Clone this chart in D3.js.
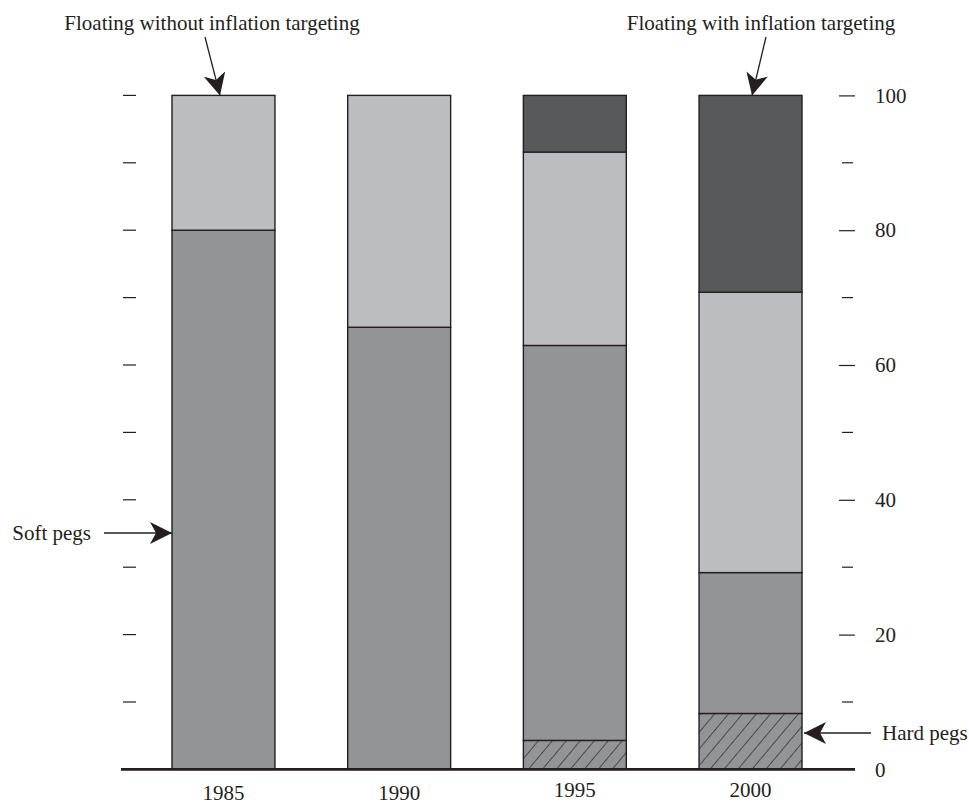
<!DOCTYPE html>
<html>
<head>
<meta charset="utf-8">
<script src="https://cdn.jsdelivr.net/npm/d3@7"></script>
<style>
  body { margin: 0; background: #fff; }
  svg { display: block; }
  text { font-family: "Liberation Serif", "Times New Roman", serif; fill: #231f20; }
</style>
</head>
<body>
<svg id="chart" width="969" height="805"></svg>
<script>
// ---- data ----
const years = ["1985", "1990", "1995", "2000"];
const hardPegs = [0, 0, 4.3, 8.3];
const softPegs = [80, 65.6, 58.6, 20.9];
const floatNoIT = [20, 34.4, 28.7, 41.6];
const floatIT = [0, 0, 8.4, 29.2];
const seriesKeys = ["hard", "soft", "floatNoIT", "floatIT"];
const majorTicks = [0, 20, 40, 60, 80, 100];
const minorTicks = [10, 30, 50, 70, 90];
const leftTicks = [10, 20, 30, 40, 50, 60, 70, 80, 90, 100];
const yearLabelOffset = [3, 3, 0, 0];

const colors = { hard: "#939498", soft: "#939498", floatNoIT: "#bcbdc1", floatIT: "#58595b" };
const ink = "#231f20";

const svg = d3.select("#chart");

// hatch pattern
const defs = svg.append("defs");
const pat = defs.append("pattern")
  .attr("id", "hatch").attr("patternUnits", "userSpaceOnUse")
  .attr("width", 10.7).attr("height", 10.7)
  .attr("patternTransform", "rotate(40)");
pat.append("rect").attr("width", 10.7).attr("height", 10.7).attr("fill", colors.hard);
pat.append("line").attr("x1", 0).attr("y1", 0).attr("x2", 0).attr("y2", 10.7)
  .attr("stroke", ink).attr("stroke-width", 1.3);

defs.append("marker").attr("id", "arrow")
  .attr("viewBox", "0 0 22 22").attr("refX", 22).attr("refY", 11)
  .attr("markerWidth", 22).attr("markerHeight", 22)
  .attr("markerUnits", "userSpaceOnUse")
  .attr("orient", "auto")
  .append("path").attr("d", "M0,0 L22,11 L0,22 L6,11 Z").attr("fill", ink);

const y = d3.scaleLinear().domain([0, 100]).range([769.4, 95.4]);
const x = d3.scaleBand().domain(years).range([172, 802]).paddingInner(0.414).paddingOuter(0);

const table = years.map((yr, i) => ({
  year: yr, hard: hardPegs[i], soft: softPegs[i], floatNoIT: floatNoIT[i], floatIT: floatIT[i]
}));
const stack = d3.stack().keys(seriesKeys)(table);

const g = svg.append("g");
stack.forEach(layer => {
  g.selectAll(null).data(layer.filter(d => d[1] - d[0] > 0.01)).join("rect")
    .attr("x", d => x(d.data.year))
    .attr("width", x.bandwidth())
    .attr("y", d => y(d[1]))
    .attr("height", d => y(d[0]) - y(d[1]))
    .attr("fill", layer.key === "hard" ? "url(#hatch)" : colors[layer.key])
    .attr("stroke", ink).attr("stroke-width", 1.4);
});

// baseline
svg.append("line").attr("x1", 121).attr("x2", 855).attr("y1", y(0)).attr("y2", y(0))
  .attr("stroke", ink).attr("stroke-width", 2.6);

// left ticks
svg.append("g").selectAll("line").data(leftTicks).join("line")
  .attr("x1", 123).attr("x2", 136)
  .attr("y1", d => y(d)).attr("y2", d => y(d))
  .attr("stroke", ink).attr("stroke-width", 1.2);

// right axis (major)
const rightAxis = d3.axisRight(y).tickValues(majorTicks).tickSize(16).tickPadding(20)
  .tickFormat(d3.format("d"));
const ra = svg.append("g").attr("transform", "translate(839,0)").call(rightAxis);
ra.select(".domain").remove();
ra.selectAll(".tick line").attr("stroke", ink).attr("stroke-width", 1.2);
ra.selectAll(".tick line").filter(d => d === 0).remove();
ra.selectAll(".tick text").attr("font-size", 21).attr("fill", ink)
  .style("font-family", '"Liberation Serif", serif');

// right minor ticks
svg.append("g").selectAll("line").data(minorTicks).join("line")
  .attr("x1", 842).attr("x2", 853)
  .attr("y1", d => y(d)).attr("y2", d => y(d))
  .attr("stroke", ink).attr("stroke-width", 1.2);

// year labels
const xa = svg.append("g").attr("transform", `translate(0,${y(0)})`)
  .call(d3.axisBottom(x).tickSize(0).tickPadding(0));
xa.select(".domain").remove();
xa.selectAll(".tick text")
  .attr("font-size", 21).attr("fill", ink)
  .style("font-family", '"Liberation Serif", serif')
  .attr("dy", null)
  .attr("y", (d, i) => 27.5 + yearLabelOffset[i]);

// annotations
const ann = svg.append("g");
ann.append("text").attr("x", 212).attr("y", 30).attr("text-anchor", "middle")
  .attr("font-size", 21).text("Floating without inflation targeting");
ann.append("line").attr("x1", 205).attr("y1", 37)
  .attr("x2", x("1985") + 48).attr("y2", y(100))
  .attr("stroke", ink).attr("stroke-width", 1.3).attr("marker-end", "url(#arrow)");

ann.append("text").attr("x", 761).attr("y", 30).attr("text-anchor", "middle")
  .attr("font-size", 21).text("Floating with inflation targeting");
ann.append("line").attr("x1", 766).attr("y1", 37)
  .attr("x2", x("2000") + 53).attr("y2", y(100))
  .attr("stroke", ink).attr("stroke-width", 1.3).attr("marker-end", "url(#arrow)");

ann.append("text").attr("x", 91).attr("y", 540).attr("text-anchor", "end")
  .attr("font-size", 21).text("Soft pegs");
ann.append("line").attr("x1", 104).attr("y1", 533)
  .attr("x2", x("1985")).attr("y2", 533)
  .attr("stroke", ink).attr("stroke-width", 1.3).attr("marker-end", "url(#arrow)");

ann.append("text").attr("x", 882).attr("y", 740).attr("text-anchor", "start")
  .attr("font-size", 21).text("Hard pegs");
ann.append("line").attr("x1", 871).attr("y1", 733)
  .attr("x2", x("2000") + x.bandwidth() + 2).attr("y2", 733)
  .attr("stroke", ink).attr("stroke-width", 1.3).attr("marker-end", "url(#arrow)");
</script>
</body>
</html>
